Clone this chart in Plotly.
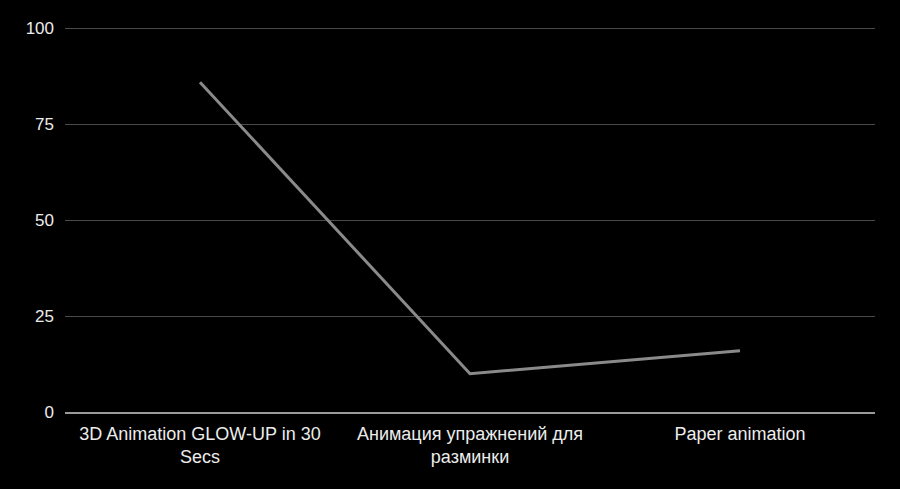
import plotly.graph_objects as go

categories = ["3D Animation GLOW-UP in 30<br>Secs", "Анимация упражнений для<br>разминки", "Paper animation"]
values = [86, 10, 16]
y_ticks = [0, 25, 50, 75, 100]

fig = go.Figure()
fig.add_trace(go.Scatter(
    x=categories, y=values, mode="lines",
    line=dict(color="#8a8a8a", width=3),
    hoverinfo="skip",
))
fig.update_layout(
    width=900, height=489,
    paper_bgcolor="#000000", plot_bgcolor="#000000",
    margin=dict(l=65, r=25, t=27, b=77),
    showlegend=False,
    font=dict(family="Liberation Sans, Arial, sans-serif", size=17, color="#ececec"),
)
fig.update_xaxes(
    type="category", range=[-0.5, 2.5], showgrid=False,
    showline=True, linecolor="#9a9a9a", linewidth=2,
    ticks="", ticklabelstandoff=4, tickfont=dict(size=18, color="#ececec"),
)
fig.update_yaxes(
    range=[0, 100.4], tickvals=y_ticks, showgrid=True, gridcolor="#4a4a4a", gridwidth=1,
    zeroline=False, showline=False, ticks="", ticklabelstandoff=10,
    tickfont=dict(size=17, color="#ececec"),
)
fig.write_html(
    "out.html",
    config={"displayModeBar": False},
    post_script="document.body.style.margin='0';document.body.style.background='#000';",
)
